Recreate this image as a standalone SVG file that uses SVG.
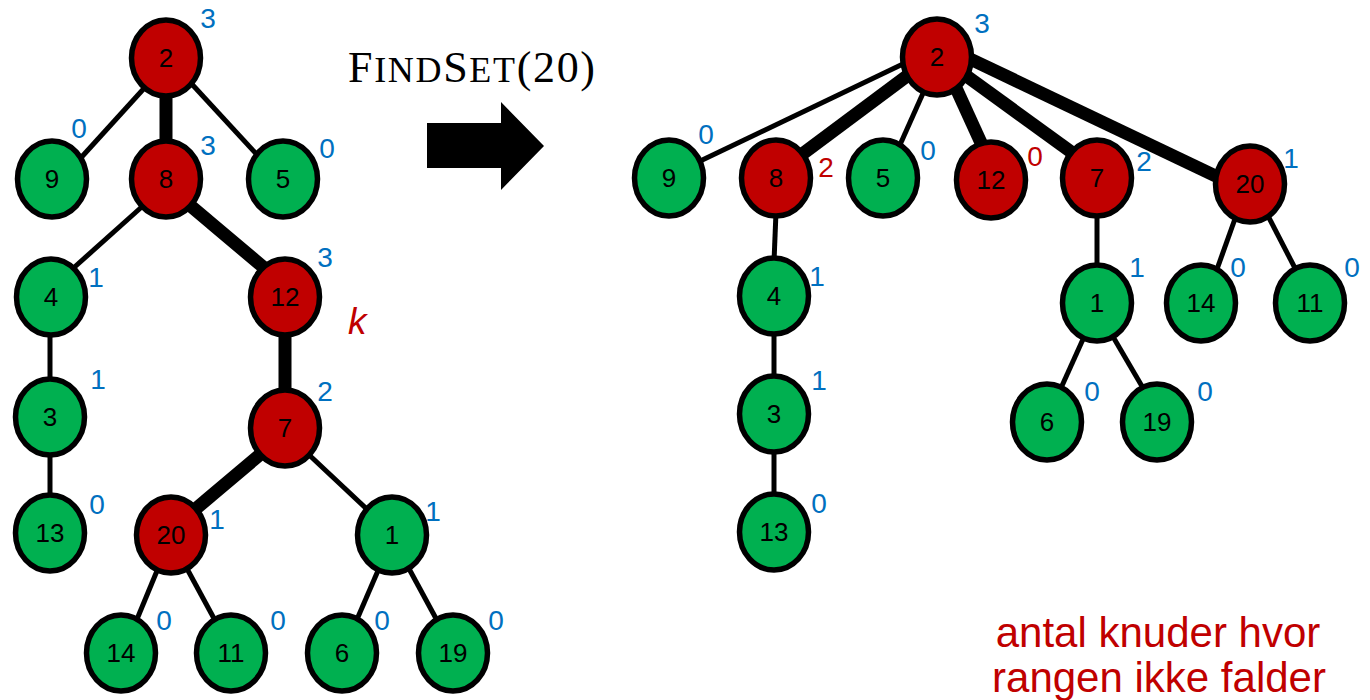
<svg xmlns="http://www.w3.org/2000/svg" width="1370" height="700" viewBox="0 0 1370 700">
<style>
.e{stroke:#000;stroke-linecap:butt;fill:none}
.thin{stroke-width:5}
.thick{stroke-width:13}
.r{fill:#C00000;stroke:#000;stroke-width:5.5}
.g{fill:#00B050;stroke:#000;stroke-width:5.5}
.lbl{font-family:"Liberation Sans",Arial,sans-serif;font-size:26px;fill:#000;text-anchor:middle}
.rk{font-family:"Liberation Sans",Arial,sans-serif;font-size:28px;fill:#0070C0;text-anchor:middle}
.rk.red{fill:#C00000}
</style>
<rect width="1370" height="700" fill="#fff"/>
<g id="connectors">
<!-- left tree -->
<line class="e thin" x1="148" y1="84" x2="78" y2="161"/>
<line class="e thin" x1="189" y1="81" x2="260" y2="158"/>
<line class="e thick" x1="166" y1="90" x2="166" y2="145"/>
<line class="e thin" x1="145" y1="204" x2="69" y2="272"/>
<line class="e thick" x1="186" y1="202" x2="269" y2="272"/>
<line class="e thin" x1="50" y1="330" x2="50" y2="385"/>
<line class="e thin" x1="50" y1="450" x2="50" y2="500"/>
<line class="e thick" x1="285" y1="330" x2="285" y2="395"/>
<line class="e thick" x1="263" y1="452" x2="192" y2="512"/>
<line class="e thin" x1="306" y1="452" x2="371" y2="513"/>
<line class="e thin" x1="159" y1="566" x2="135" y2="624"/>
<line class="e thin" x1="185" y1="565" x2="217" y2="624"/>
<line class="e thin" x1="380" y1="566" x2="355" y2="624"/>
<line class="e thin" x1="407" y1="565" x2="439" y2="624"/>
<!-- right tree -->
<line class="e thin" x1="905" y1="63" x2="696" y2="163"/>
<line class="e thick" x1="911" y1="73" x2="797" y2="158"/>
<line class="e thin" x1="924" y1="91" x2="899" y2="147"/>
<line class="e thick" x1="956" y1="88" x2="982" y2="145"/>
<line class="e thick" x1="961" y1="72" x2="1074" y2="154"/>
<line class="e thick" x1="966" y1="57" x2="1224" y2="180"/>
<line class="e thin" x1="776" y1="212" x2="774" y2="262"/>
<line class="e thin" x1="1097" y1="212" x2="1097" y2="268"/>
<line class="e thin" x1="1236" y1="216" x2="1216" y2="272"/>
<line class="e thin" x1="1267" y1="214" x2="1297" y2="272"/>
<line class="e thin" x1="774" y1="330" x2="774" y2="380"/>
<line class="e thin" x1="774" y1="448" x2="774" y2="498"/>
<line class="e thin" x1="1084" y1="337" x2="1061" y2="388"/>
<line class="e thin" x1="1112" y1="335" x2="1143" y2="388"/>
</g>
<!-- left tree nodes -->
<g id="L2"><ellipse class="r" cx="166" cy="58" rx="34.5" ry="38"/><text class="lbl" x="166" y="67">2</text><text class="rk" x="208" y="28">3</text></g>
<g id="L9"><ellipse class="g" cx="52" cy="179" rx="34.5" ry="38"/><text class="lbl" x="52" y="188">9</text><text class="rk" x="79" y="138">0</text></g>
<g id="L8"><ellipse class="r" cx="166" cy="179" rx="34.5" ry="38"/><text class="lbl" x="166" y="188">8</text><text class="rk" x="208" y="155">3</text></g>
<g id="L5"><ellipse class="g" cx="283" cy="179" rx="34.5" ry="38"/><text class="lbl" x="283" y="188">5</text><text class="rk" x="327" y="158">0</text></g>
<g id="L4"><ellipse class="g" cx="51" cy="297" rx="34.5" ry="38"/><text class="lbl" x="51" y="306">4</text><text class="rk" x="96" y="287">1</text></g>
<g id="L12"><ellipse class="r" cx="285" cy="297" rx="34.5" ry="38"/><text class="lbl" x="285" y="306">12</text><text class="rk" x="325" y="267">3</text></g>
<g id="L3"><ellipse class="g" cx="50" cy="417" rx="34.5" ry="38"/><text class="lbl" x="50" y="426">3</text><text class="rk" x="98" y="389">1</text></g>
<g id="L13"><ellipse class="g" cx="50" cy="533" rx="34.5" ry="38"/><text class="lbl" x="50" y="542">13</text><text class="rk" x="97" y="514">0</text></g>
<g id="L7"><ellipse class="r" cx="285" cy="428" rx="34.5" ry="38"/><text class="lbl" x="285" y="437">7</text><text class="rk" x="325" y="401">2</text></g>
<g id="L20"><ellipse class="r" cx="171" cy="535" rx="34.5" ry="38"/><text class="lbl" x="171" y="544">20</text><text class="rk" x="217" y="529">1</text></g>
<g id="L1"><ellipse class="g" cx="392" cy="535" rx="34.5" ry="38"/><text class="lbl" x="392" y="544">1</text><text class="rk" x="433" y="521">1</text></g>
<g id="L14"><ellipse class="g" cx="121" cy="653" rx="34.5" ry="38"/><text class="lbl" x="121" y="662">14</text><text class="rk" x="164" y="630">0</text></g>
<g id="L11"><ellipse class="g" cx="231" cy="653" rx="34.5" ry="38"/><text class="lbl" x="231" y="662">11</text><text class="rk" x="278" y="630">0</text></g>
<g id="L6"><ellipse class="g" cx="342" cy="653" rx="34.5" ry="38"/><text class="lbl" x="342" y="662">6</text><text class="rk" x="382" y="630">0</text></g>
<g id="L19"><ellipse class="g" cx="453" cy="653" rx="34.5" ry="38"/><text class="lbl" x="453" y="662">19</text><text class="rk" x="496" y="630">0</text></g>
<text x="348" y="334" font-family="'Liberation Sans',Arial,sans-serif" font-style="italic" font-size="37" fill="#C00000">k</text>
<!-- operation -->
<g id="op">
<text x="348" y="82" font-family="'Liberation Serif','Times New Roman',serif" font-size="44" fill="#000" textLength="247" lengthAdjust="spacing">F<tspan font-size="36">IND</tspan>S<tspan font-size="36">ET</tspan>(20)</text>
<polygon points="427,123 501,123 501,102 544,146 501,190 501,168 427,168" fill="#000"/>
</g>
<!-- right tree nodes -->
<g id="R2"><ellipse class="r" cx="937" cy="57" rx="34.5" ry="38"/><text class="lbl" x="937" y="66">2</text><text class="rk" x="982" y="33">3</text></g>
<g id="R9"><ellipse class="g" cx="669" cy="178" rx="34.5" ry="38"/><text class="lbl" x="669" y="187">9</text><text class="rk" x="706" y="144">0</text></g>
<g id="R8"><ellipse class="r" cx="776" cy="178" rx="34.5" ry="38"/><text class="lbl" x="776" y="187">8</text><text class="rk red" x="826" y="177">2</text></g>
<g id="R5"><ellipse class="g" cx="883" cy="178" rx="34.5" ry="38"/><text class="lbl" x="883" y="187">5</text><text class="rk" x="928" y="160">0</text></g>
<g id="R12"><ellipse class="r" cx="991" cy="180" rx="34.5" ry="38"/><text class="lbl" x="991" y="189">12</text><text class="rk red" x="1035" y="166">0</text></g>
<g id="R7"><ellipse class="r" cx="1097" cy="178" rx="34.5" ry="38"/><text class="lbl" x="1097" y="187">7</text><text class="rk" x="1144" y="171">2</text></g>
<g id="R20"><ellipse class="r" cx="1250" cy="184" rx="34.5" ry="38"/><text class="lbl" x="1250" y="193">20</text><text class="rk" x="1291" y="168">1</text></g>
<g id="R4"><ellipse class="g" cx="774" cy="296" rx="34.5" ry="38"/><text class="lbl" x="774" y="305">4</text><text class="rk" x="817" y="286">1</text></g>
<g id="R1"><ellipse class="g" cx="1097" cy="303" rx="34.5" ry="38"/><text class="lbl" x="1097" y="312">1</text><text class="rk" x="1137" y="277">1</text></g>
<g id="R14"><ellipse class="g" cx="1201" cy="303" rx="34.5" ry="38"/><text class="lbl" x="1201" y="312">14</text><text class="rk" x="1238" y="277">0</text></g>
<g id="R11"><ellipse class="g" cx="1310" cy="303" rx="34.5" ry="38"/><text class="lbl" x="1310" y="312">11</text><text class="rk" x="1352" y="277">0</text></g>
<g id="R3"><ellipse class="g" cx="774" cy="414" rx="34.5" ry="38"/><text class="lbl" x="774" y="423">3</text><text class="rk" x="819" y="390">1</text></g>
<g id="R6"><ellipse class="g" cx="1047" cy="422" rx="34.5" ry="38"/><text class="lbl" x="1047" y="431">6</text><text class="rk" x="1092" y="401">0</text></g>
<g id="R19"><ellipse class="g" cx="1157" cy="422" rx="34.5" ry="38"/><text class="lbl" x="1157" y="431">19</text><text class="rk" x="1205" y="401">0</text></g>
<g id="R13"><ellipse class="g" cx="774" cy="532" rx="34.5" ry="38"/><text class="lbl" x="774" y="541">13</text><text class="rk" x="819" y="513">0</text></g>
<g id="note" font-family="'Liberation Sans',Arial,sans-serif" font-size="42" fill="#C00000" text-anchor="middle">
<text x="1158" y="647">antal knuder hvor</text>
<text x="1159" y="692">rangen ikke falder</text>
</g>
</svg>
